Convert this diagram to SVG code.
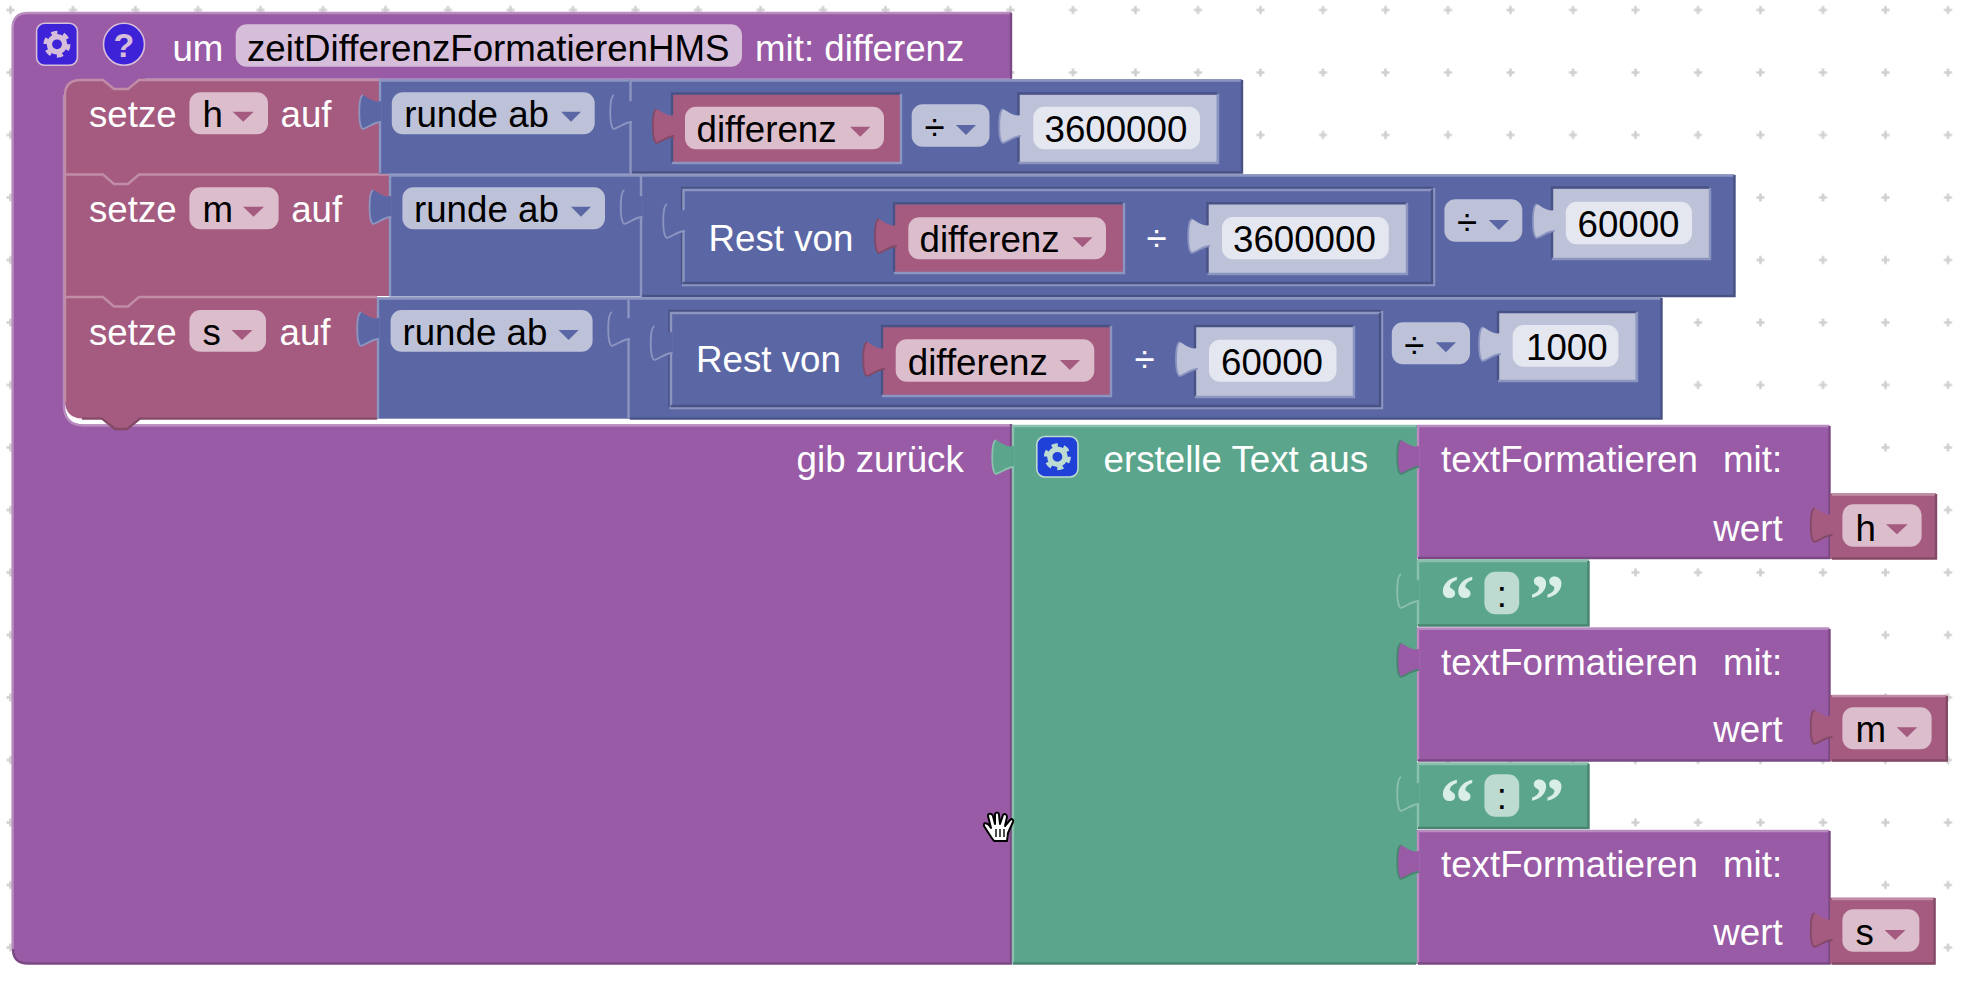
<svg xmlns="http://www.w3.org/2000/svg" width="1962" height="984" viewBox="0 0 1962 984">
<style>
text{font-family:"Liberation Sans",Arial,sans-serif;font-size:36.7px}
.w{fill:#fff}.k{fill:#000}
.p{fill:#995ba5}.r{fill:#a55b80}.b{fill:#5b67a5}.g{fill:#5ba58c}.s{fill:#bdc2d9}
.fp{fill:#d6bdd9}.fr{fill:#dbbdcc}.fb{fill:#bdc2d9}.fn{fill:#e5e7f0}.fg{fill:#bddbd1}
.lp,.dp,.lr,.dr,.lb,.db,.lg,.dg{fill:none;stroke-width:2.4}
.lp{stroke:#b88cc0}.dp{stroke:#7a4984}.lr{stroke:#c08ca6}.dr{stroke:#844966}.lb{stroke:#8c95c0}.db{stroke:#495284}.lg{stroke:#8cc0ae}.dg{stroke:#498470}
.tb{fill:#5b67a5;stroke:#8c95c0;stroke-width:1.8}
.tr{fill:#a55b80;stroke:#844966;stroke-width:1.8}
.ts{fill:#bdc2d9;stroke:#8c95c0;stroke-width:1.8}
.tp{fill:#995ba5;stroke:#498470;stroke-width:1.8}
.tg{fill:#5ba58c;stroke:#8cc0ae;stroke-width:1.8}
.ar{fill:#a55b80}.ab{fill:#5b67a5}
.q{font-family:"Liberation Serif","Times New Roman",serif;font-weight:700;font-size:70px;fill:#d8eee6}
</style>
<defs>
<pattern id="grid" width="62.5" height="62.5" patternUnits="userSpaceOnUse" x="-20.75" y="-21.25">
<path d="M27.25 31.25h8M31.25 27.25v8" stroke="#d0d0d0" stroke-width="2.6" fill="none"/>
</pattern>
<g id="tab">
<path stroke="none" d="M2 6C-5 8-10 3-16 0C-21 2-21 32-16 34C-10 32-5 27 2 27Z"/>
<path fill="none" d="M-16 0C-21 2-21 32-16 34C-10 32-5 27 2 27"/>
</g>
<g id="gear" fill="none" stroke="currentColor">
<circle r="7.6" stroke-width="5.4"/>
<circle r="11.4" stroke-width="4.2" stroke-dasharray="6 5.94"/>
</g>
</defs>
<rect width="1962" height="984" fill="#fff"/>
<rect width="1962" height="984" fill="url(#grid)"/>

<g id="procedure">
<path class="p" d="M12.6 28Q12.6 12.5 28 12.5H1011.4V78.7H145V95H64V405Q64 424.500 84 424.500H1011.4V964H28Q12.6 964 12.6 949Z"/>
<path class="lp" d="M12.6 949V28Q12.6 13 28 13H1011M84 425.500H1011M64 95V405Q64 425.500 84 425.500"/>
<path class="dp" d="M1011 13V78.7M1011 424V963.5H28Q13 963.5 13 949"/>
<rect x="36.6" y="23.3" width="40.8" height="42" rx="8" fill="#3d22d8" stroke="#d6bdd9" stroke-width="1.6"/>
<use href="#gear" x="57" y="44.3" color="#d6bdd9"/>
<ellipse cx="124" cy="44.3" rx="20.5" ry="21" fill="#3d22d8" stroke="#d6bdd9" stroke-width="1.6"/>
<text x="124" y="57" text-anchor="middle" style="font-size:34px;font-weight:700" fill="#d6bdd9">?</text>
<text class="w" x="172.4" y="60.5">um</text>
<rect class="fp" x="235.7" y="24.3" width="506.3" height="42.4" rx="11"/>
<text class="k" x="247" y="60.5">zeitDifferenzFormatierenHMS</text>
<text class="w" x="755" y="60.5">mit: differenz</text>
<text class="w" x="796.6" y="472.2">gib zurück</text>
</g>

<g id="stack">
<path class="r" d="M65 95Q65 79.3 81 79.3H103L114 88.5H128L139 79.3H379V173.5H389.3V296H377V418.600H140L127 429H115L102 418.600H82Q66 418 65 402Z"/>
<path class="lr" d="M65 402V95Q65 80 81 80H103L114 89H128L139 80H379"/>
<path class="lr" d="M65 174.5H103L114 184H128L139 174.5H389M65 297H103L114 306.500H128L139 297H377"/>
<path class="dr" d="M82 418.600H102L115 429H127L140 418.600H377"/>
</g>

<g id="setze-h">
<text class="w" x="89" y="126.7">setze</text>
<rect class="fr" x="189.4" y="92.3" width="78.6" height="42" rx="11"/>
<text class="k" x="202.4" y="126.7">h</text>
<path class="ar" d="M232.7 111.7h21l-10.500 10z"/>
<text class="w" x="280.500" y="126.7">auf</text>
</g>
<g id="setze-m">
<text class="w" x="89" y="221.7">setze</text>
<rect class="fr" x="189.4" y="187.3" width="89.200" height="42" rx="11"/>
<text class="k" x="202.4" y="221.7">m</text>
<path class="ar" d="M243 206.7h21l-10.500 10z"/>
<text class="w" x="291.200" y="221.7">auf</text>
</g>
<g id="setze-s">
<text class="w" x="89" y="345">setze</text>
<rect class="fr" x="189.4" y="310" width="76.600" height="41.700" rx="11"/>
<text class="k" x="202.4" y="345">s</text>
<path class="ar" d="M231.500 330h21l-10.500 10z"/>
<text class="w" x="279.500" y="345">auf</text>
</g>

<g id="round-h">
<rect class="b" x="379" y="79.3" width="252.500" height="94.500"/>
<path class="lb" d="M380 173V80.500H629"/>
<use href="#tab" class="tb" x="379" y="95"/>
<rect class="fb" x="391.8" y="92.3" width="202.900" height="42" rx="11"/>
<text class="k" x="404.2" y="126.7">runde ab</text>
<path class="ab" d="M561 111.7h20l-10 10z"/>
</g>
<g id="div-h">
<rect class="b" x="630" y="79.3" width="612" height="94"/>
<path class="lb" d="M630.500 173V80.500H1241"/>
<path class="db" d="M1242 80V172.500H632"/>
<use href="#tab" class="tb" x="630" y="95"/>
<g id="var-h1">
<rect class="r" x="672.6" y="94.3" width="227.400" height="68"/>
<path class="db" d="M672 162V93.500H900"/>
<path class="lb" d="M901 94V163H672"/>
<use href="#tab" class="tr" x="672.6" y="109"/>
<rect class="fr" x="685" y="106.7" width="199" height="42.600" rx="11"/>
<text class="k" x="696.500" y="141.7">differenz</text>
<path class="ar" d="M850 126.700h20.400l-10.200 10z"/>
</g>
<rect class="fb" x="911.700" y="104.3" width="77.800" height="42.400" rx="11"/>
<text class="k" x="924.500" y="140">÷</text>
<path class="ab" d="M955.900 125h20.100l-10 10z"/>
<g id="num-h">
<rect class="s" x="1019" y="94.3" width="197.800" height="68"/>
<path class="db" d="M1018.500 162V93.500H1217"/>
<path class="lb" d="M1218 94V163H1018.500"/>
<use href="#tab" class="ts" x="1019" y="109"/>
<rect class="fn" x="1033.300" y="106.7" width="166.700" height="42.600" rx="11"/>
<text class="k" x="1044.500" y="141.7">3600000</text>
</g>
</g>

<g id="round-m">
<rect class="b" x="389.3" y="174.5" width="253" height="122"/>
<path class="lb" d="M390 296V175.500H640"/>
<use href="#tab" class="tb" x="389.300" y="190"/>
<rect class="fb" x="402.400" y="187.3" width="202.600" height="42" rx="11"/>
<text class="k" x="414" y="221.7">runde ab</text>
<path class="ab" d="M571 206.7h20l-10 10z"/>
</g>
<g id="div-m">
<rect class="b" x="640.500" y="174.5" width="1094" height="122"/>
<path class="lb" d="M641 296V175.500H1734"/>
<path class="db" d="M1734.500 175V296H642"/>
<use href="#tab" class="tb" x="640.500" y="190"/>
<g id="rest-m">
<path class="db" d="M682 284V188H1433"/>
<path class="lb" d="M1434 188V285H682"/>
<path class="lb" d="M683.500 283V190H1432"/>
<path class="db" d="M1432 190V283H683"/>
<use href="#tab" class="tb" x="683" y="204"/>
<text class="w" x="708.600" y="251.200">Rest von</text>
<g id="var-m">
<rect class="r" x="894.800" y="204" width="228.200" height="68"/>
<path class="db" d="M894 272V203.200H1123"/>
<path class="lb" d="M1124 203V273H894"/>
<use href="#tab" class="tr" x="894.800" y="219"/>
<rect class="fr" x="908.300" y="217.300" width="197.700" height="42" rx="11"/>
<text class="k" x="919.500" y="252">differenz</text>
<path class="ar" d="M1072.400 237.300h20.200l-10.100 10z"/>
</g>
<text class="w" x="1146.400" y="251.200">÷</text>
<g id="num-m1">
<rect class="s" x="1208" y="204" width="198" height="69"/>
<path class="db" d="M1207.500 273V203.200H1406"/>
<path class="lb" d="M1407 203V274H1207.500"/>
<use href="#tab" class="ts" x="1208" y="219"/>
<rect class="fn" x="1222" y="217" width="166.700" height="42.300" rx="11"/>
<text class="k" x="1233" y="252">3600000</text>
</g>
</g>
<rect class="fb" x="1444.400" y="199.300" width="77.900" height="42.400" rx="11"/>
<text class="k" x="1457" y="235">÷</text>
<path class="ab" d="M1488.800 220h20.200l-10.100 10z"/>
<g id="num-m2">
<rect class="s" x="1552.700" y="188.300" width="156.600" height="70"/>
<path class="db" d="M1552 258V187.500H1709"/>
<path class="lb" d="M1710 188V259H1552"/>
<use href="#tab" class="ts" x="1552.700" y="204"/>
<rect class="fn" x="1565.800" y="201.700" width="126.200" height="42.600" rx="11"/>
<text class="k" x="1577.500" y="237.300">60000</text>
</g>
</g>

<g id="round-s">
<rect class="b" x="377" y="297.500" width="252.500" height="121.200"/>
<path class="lb" d="M378 418.600V298.500H627"/>
<use href="#tab" class="tb" x="377" y="312"/>
<rect class="fb" x="390.600" y="310" width="202" height="41.700" rx="11"/>
<text class="k" x="402.500" y="345">runde ab</text>
<path class="ab" d="M558.500 330h20.200l-10.100 10z"/>
</g>
<g id="div-s">
<rect class="b" x="628" y="297.500" width="1033.500" height="121.500"/>
<path class="lb" d="M628.500 418.600V298.500H1661"/>
<path class="db" d="M1661.500 298V418.600H630"/>
<use href="#tab" class="tb" x="628" y="312"/>
<g id="rest-s">
<path class="db" d="M669.500 407V311H1381"/>
<path class="lb" d="M1382 311V408H669.500"/>
<path class="lb" d="M671 406V313H1380"/>
<path class="db" d="M1380 313V406H671"/>
<use href="#tab" class="tb" x="670.500" y="326"/>
<text class="w" x="696" y="371.700">Rest von</text>
<g id="var-s">
<rect class="r" x="883" y="326.700" width="227.300" height="68.300"/>
<path class="db" d="M882 395V326H1110"/>
<path class="lb" d="M1111 326V396H882"/>
<use href="#tab" class="tr" x="883" y="342"/>
<rect class="fr" x="895.700" y="339.300" width="198.600" height="42.400" rx="11"/>
<text class="k" x="907.800" y="375.200">differenz</text>
<path class="ar" d="M1059.800 360h20.200l-10.100 10z"/>
</g>
<text class="w" x="1134.600" y="372">÷</text>
<g id="num-s1">
<rect class="s" x="1195.800" y="326.700" width="157.200" height="69.300"/>
<path class="db" d="M1195 396V326H1353"/>
<path class="lb" d="M1354 326V397H1195"/>
<use href="#tab" class="ts" x="1195.800" y="342"/>
<rect class="fn" x="1209" y="339.700" width="127.500" height="42" rx="11"/>
<text class="k" x="1221" y="375.200">60000</text>
</g>
</g>
<rect class="fb" x="1391.800" y="322.300" width="78.200" height="42" rx="11"/>
<text class="k" x="1404.300" y="358">÷</text>
<path class="ab" d="M1435.700 342.300h20.300l-10.100 10z"/>
<g id="num-s2">
<rect class="s" x="1498.800" y="312.700" width="137" height="68"/>
<path class="db" d="M1498 380V312H1636"/>
<path class="lb" d="M1637 312V381H1498"/>
<use href="#tab" class="ts" x="1498.800" y="327"/>
<rect class="fn" x="1512.700" y="325" width="105.700" height="41.700" rx="11"/>
<text class="k" x="1526" y="360">1000</text>
</g>
</g>

<g id="text-join">
<rect class="g" x="1012.500" y="425" width="404.500" height="539"/>
<path class="lg" d="M1013 964V426H1416"/>
<path class="dg" d="M1013 963.500H1416"/>
<use href="#tab" class="tg" x="1012" y="440"/>
<rect x="1036.800" y="436.500" width="41.200" height="40.500" rx="8" fill="#1f41d8" stroke="#bddbd1" stroke-width="1.600"/>
<use href="#gear" x="1057.400" y="456.800" color="#bddbd1"/>
<text class="w" x="1103.600" y="472.200">erstelle Text aus</text>
</g>

<g id="format-h">
<rect class="p" x="1417" y="425" width="412.400" height="133.300"/>
<path class="lp" d="M1418 558V426H1829"/>
<path class="dp" d="M1829.500 426V558H1418"/>
<use href="#tab" class="tp" x="1417" y="440"/>
<text class="w" x="1441" y="472.200">textFormatieren</text>
<text class="w" x="1723" y="472.200">mit:</text>
<text class="w" x="1713.300" y="540.500">wert</text>
</g>
<g id="var-h2">
<rect class="r" x="1830" y="493.300" width="106" height="65.700"/>
<path class="lr" d="M1832 494.500H1936"/>
<path class="dr" d="M1936 494V558.500H1832"/>
<use href="#tab" class="tr" x="1830.500" y="508"/>
<rect class="fr" x="1842.400" y="504.300" width="79.200" height="42.400" rx="11"/>
<text class="k" x="1855.500" y="540.500">h</text>
<path class="ar" d="M1886 524.300h21.700l-10.800 10z"/>
</g>
<g id="colon-1">
<rect class="g" x="1417" y="559.500" width="171.800" height="66.500"/>
<path class="lg" d="M1418 625.500V561H1588"/>
<path class="dg" d="M1588.500 561V625.500H1418"/>
<use href="#tab" class="tg" x="1417" y="574"/>
<text class="q" x="1439.500" y="623">“</text>
<rect class="fg" x="1484.400" y="571.700" width="34.800" height="42.600" rx="11"/>
<text class="k" x="1501.800" y="606.500" text-anchor="middle">:</text>
<text class="q" x="1529.500" y="623">”</text>
</g>
<g id="format-m">
<rect class="p" x="1417" y="627.700" width="412.400" height="133.300"/>
<path class="lp" d="M1418 760.500V628.700H1829"/>
<path class="dp" d="M1829.500 629V760.500H1418"/>
<use href="#tab" class="tp" x="1417" y="643"/>
<text class="w" x="1441" y="675.200">textFormatieren</text>
<text class="w" x="1723" y="675.200">mit:</text>
<text class="w" x="1713.300" y="742.200">wert</text>
</g>
<g id="var-m2">
<rect class="r" x="1830" y="695" width="116.800" height="66.300"/>
<path class="lr" d="M1832 696H1947"/>
<path class="dr" d="M1946.800 696V760.500H1832"/>
<use href="#tab" class="tr" x="1830.500" y="710"/>
<rect class="fr" x="1842.400" y="707.300" width="89.200" height="42" rx="11"/>
<text class="k" x="1855.500" y="742.200">m</text>
<path class="ar" d="M1896.800 727.300h20.400l-10.200 10z"/>
</g>
<g id="colon-2">
<rect class="g" x="1417" y="762.500" width="171.800" height="66.200"/>
<path class="lg" d="M1418 828V764H1588"/>
<path class="dg" d="M1588.500 764V828H1418"/>
<use href="#tab" class="tg" x="1417" y="777"/>
<text class="q" x="1439.500" y="825.500">“</text>
<rect class="fg" x="1484.400" y="774.300" width="34.800" height="42.400" rx="11"/>
<text class="k" x="1501.800" y="809" text-anchor="middle">:</text>
<text class="q" x="1529.500" y="825.500">”</text>
</g>
<g id="format-s">
<rect class="p" x="1417" y="830" width="412.400" height="134"/>
<path class="lp" d="M1418 963.500V831H1829"/>
<path class="dp" d="M1829.500 831V963.500H1418"/>
<use href="#tab" class="tp" x="1417" y="845"/>
<text class="w" x="1441" y="877.200">textFormatieren</text>
<text class="w" x="1723" y="877.200">mit:</text>
<text class="w" x="1713.300" y="944.500">wert</text>
</g>
<g id="var-s2">
<rect class="r" x="1830" y="897.700" width="104.600" height="66.600"/>
<path class="lr" d="M1832 899H1934.600"/>
<path class="dr" d="M1934.600 898V963.500H1832"/>
<use href="#tab" class="tr" x="1830.500" y="913"/>
<rect class="fr" x="1842.400" y="909.300" width="77" height="42.400" rx="11"/>
<text class="k" x="1855.500" y="944.500">s</text>
<path class="ar" d="M1884.600 930h20.900l-10.400 10z"/>
</g>

<g id="cursor" stroke="#000" stroke-width="2" fill="#fff" stroke-linejoin="round">
<path d="M994 841C990 836 988 832 984 826C983 823 986 822 989 825L991 828L988 816C988 813 992 813 993 816L995 824L995 814C996 812 999 812 999 815L1000 824L1003 815C1004 813 1007 814 1007 817L1005 826L1010 820C1012 818 1014 820 1013 822L1008 833L1007 841Z"/>
<path d="M996 829V837M1000 829V837M1004 829V837" fill="none" stroke-width="1.400"/>
</g>
<g id="connectors"/>
</svg>
